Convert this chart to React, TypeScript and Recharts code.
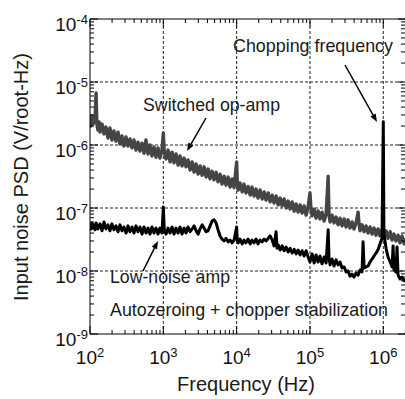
import React from "react";
import { LineChart, Line, XAxis, YAxis, ReferenceLine, Customized } from "recharts";

// Switched op-amp (gray) spectrum
const opAmpFreq = [
  100, 103, 106, 110, 113, 117, 121, 124, 128, 133, 137, 146, 155, 165, 176, 187, 199, 212, 226, 241,
  256, 273, 290, 310, 330, 351, 374, 398, 424, 451, 480, 512, 545, 580, 618, 657, 700, 746, 794, 846,
  900, 959, 1000, 1030, 1090, 1160, 1236, 1316, 1400, 1490, 1590, 1690, 1800, 1920, 2040, 2170, 2320, 2470, 2630, 2800,
  2980, 3170, 3380, 3600, 3830, 4080, 4340, 4620, 4920, 5240, 5580, 5940, 6330, 6740, 7170, 7640, 8140, 8660, 9220, 10000,
  10200, 10500, 11100, 11900, 12600, 13400, 14300, 15300, 16200, 17300, 18400, 19600, 20900, 22300, 23700, 25200, 26900, 28600, 30500, 32400,
  34500, 36800, 39200, 41700, 44400, 47300, 50300, 53600, 57100, 60800, 64700, 68900, 73400, 78100, 83200, 88600, 94300, 100000, 103000, 107000,
  114000, 121000, 129000, 137000, 146000, 156000, 166000, 177000, 182000, 188000, 200000, 213000, 227000, 242000, 257000, 274000, 292000, 311000, 331000, 352000,
  375000, 399000, 425000, 453000, 467000, 482000, 513000, 547000, 582000, 620000, 660000, 703000, 748000, 797000, 849000, 904000, 960000, 1020000, 1090000, 1160000,
  1240000, 1320000, 1400000, 1490000, 1590000, 1690000, 1800000, 1920000, 2040000,
];
const opAmpPsd = [
  2.68e-6, 2.0e-6, 2.9e-6, 2.15e-6, 2.5e-6, 2.33e-6, 6.7e-6, 2.15e-6, 1.73e-6, 2.33e-6, 1.6e-6, 2.15e-6, 1.5e-6, 1.93e-6, 1.29e-6, 1.86e-6, 1.2e-6, 1.67e-6, 1.15e-6, 1.6e-6,
  1.04e-6, 1.39e-6, 9.6e-7, 1.34e-6, 9.6e-7, 1.25e-6, 9.0e-7, 1.2e-6, 8.3e-7, 1.11e-6, 8.0e-7, 1.07e-6, 7.4e-7, 1.2e-6, 7.2e-7, 1.0e-6, 6.7e-7, 9.3e-7, 6.4e-7, 9.0e-7,
  6.2e-7, 8.3e-7, 1.55e-6, 7.7e-7, 6.0e-7, 8.3e-7, 5.4e-7, 7.7e-7, 5.2e-7, 7.2e-7, 4.8e-7, 6.7e-7, 4.65e-7, 6.2e-7, 4.5e-7, 5.8e-7, 4.0e-7, 5.4e-7, 3.7e-7, 5.0e-7,
  3.45e-7, 4.65e-7, 3.3e-7, 4.5e-7, 3.1e-7, 4.15e-7, 2.9e-7, 3.85e-7, 2.8e-7, 3.7e-7, 2.6e-7, 3.45e-7, 2.4e-7, 3.2e-7, 2.3e-7, 3.1e-7, 2.15e-7, 2.9e-7, 2.1e-7, 5.4e-7,
  2.6e-7, 1.93e-7, 2.5e-7, 1.8e-7, 2.4e-7, 1.73e-7, 2.2e-7, 1.6e-7, 2.15e-7, 1.55e-7, 2.0e-7, 1.44e-7, 1.93e-7, 1.39e-7, 1.8e-7, 1.34e-7, 1.73e-7, 1.25e-7, 1.6e-7, 1.2e-7,
  1.55e-7, 1.12e-7, 1.44e-7, 1.08e-7, 1.39e-7, 1.0e-7, 1.29e-7, 9.6e-8, 1.25e-7, 8.9e-8, 1.16e-7, 8.6e-8, 1.12e-7, 8.3e-8, 1.08e-7, 7.7e-8, 1.04e-7, 1.73e-7, 1.0e-7, 7.5e-8,
  9.6e-8, 6.9e-8, 9.0e-8, 6.7e-8, 8.6e-8, 6.2e-8, 8.0e-8, 3.2e-7, 7.7e-8, 6.0e-8, 7.7e-8, 5.8e-8, 7.2e-8, 5.4e-8, 6.9e-8, 5.2e-8, 6.7e-8, 5.0e-8, 6.5e-8, 4.8e-8,
  6.0e-8, 4.65e-8, 5.8e-8, 8.6e-8, 5.6e-8, 4.35e-8, 5.4e-8, 4.2e-8, 5.2e-8, 4.0e-8, 5.0e-8, 3.85e-8, 4.8e-8, 3.7e-8, 4.65e-8, 3.6e-8, 4.5e-8, 3.45e-8, 4.35e-8, 3.3e-8,
  4.2e-8, 3.1e-8, 3.85e-8, 3.0e-8, 3.7e-8, 2.8e-8, 3.6e-8, 2.7e-8, 3.3e-8,
];

// Low-noise amp (black) spectrum
const lnaFreq = [
  100, 103, 106, 110, 113, 117, 121, 128, 137, 146, 155, 165, 176, 187, 199, 212, 226, 241, 256, 273,
  290, 310, 330, 351, 374, 398, 424, 451, 480, 512, 545, 580, 618, 657, 700, 746, 794, 846, 900, 959,
  1000, 1030, 1090, 1160, 1236, 1316, 1400, 1490, 1590, 1690, 1800, 1920, 2040, 2170, 2320, 2470, 2630, 2800, 2980, 3170,
  3380, 3600, 3830, 4080, 4340, 4620, 4920, 5240, 5580, 5940, 6330, 6740, 7170, 7640, 8140, 8660, 9220, 10000, 10200, 10500,
  11100, 11900, 12600, 13400, 14300, 15300, 16200, 17300, 18400, 19600, 20900, 22300, 23700, 25200, 26900, 28600, 30500, 32400, 34500, 35600,
  36800, 39200, 41700, 44400, 47300, 50300, 53600, 57100, 60800, 64700, 68900, 73400, 78100, 83200, 88600, 94300, 100000, 107000, 114000, 121000,
  129000, 137000, 146000, 156000, 166000, 177000, 182000, 188000, 200000, 213000, 227000, 242000, 257000, 274000, 292000, 311000, 331000, 352000, 375000, 399000,
  425000, 453000, 482000, 513000, 530000, 547000, 582000, 620000, 660000, 703000, 748000, 797000, 849000, 904000, 960000, 1000000, 1020000, 1050000, 1090000, 1160000,
  1240000, 1320000, 1360000, 1400000, 1490000, 1540000, 1590000, 1690000, 1800000, 1920000, 2040000,
];
const lnaPsd = [
  5.6e-8, 4.65e-8, 5.8e-8, 4.8e-8, 5.4e-8, 4.5e-8, 5.8e-8, 4.65e-8, 5.6e-8, 4.35e-8, 6.0e-8, 4.65e-8, 5.4e-8, 4.35e-8, 5.6e-8, 4.5e-8, 5.2e-8, 4.2e-8, 5.4e-8, 4.35e-8,
  5.0e-8, 4.0e-8, 5.2e-8, 4.2e-8, 5.0e-8, 4.0e-8, 5.2e-8, 4.2e-8, 5.0e-8, 3.85e-8, 5.0e-8, 4.0e-8, 4.8e-8, 3.85e-8, 5.0e-8, 4.0e-8, 4.8e-8, 3.85e-8, 4.8e-8, 4.0e-8,
  1.04e-7, 4.5e-8, 3.85e-8, 4.8e-8, 4.0e-8, 5.0e-8, 3.85e-8, 4.8e-8, 4.0e-8, 5.0e-8, 3.85e-8, 4.8e-8, 4.0e-8, 5.0e-8, 4.2e-8, 4.65e-8, 5.2e-8, 4.35e-8, 3.85e-8, 4.65e-8,
  5.4e-8, 4.8e-8, 4.2e-8, 4.35e-8, 5.2e-8, 6.2e-8, 6.5e-8, 5.8e-8, 4.5e-8, 3.6e-8, 3.2e-8, 3.0e-8, 3.3e-8, 2.9e-8, 3.1e-8, 2.8e-8, 3.1e-8, 5.0e-8, 3.0e-8, 2.8e-8,
  3.2e-8, 2.7e-8, 3.1e-8, 2.8e-8, 3.2e-8, 2.7e-8, 3.1e-8, 2.8e-8, 3.2e-8, 2.7e-8, 3.1e-8, 2.9e-8, 3.2e-8, 3.0e-8, 3.3e-8, 3.6e-8, 3.1e-8, 2.5e-8, 4.2e-8, 2.3e-8,
  2.6e-8, 2.15e-8, 2.5e-8, 2.1e-8, 2.4e-8, 2.0e-8, 2.3e-8, 1.93e-8, 2.2e-8, 1.87e-8, 2.15e-8, 1.8e-8, 2.1e-8, 1.73e-8, 2.1e-8, 1.67e-8, 1.39e-8, 1.87e-8, 1.34e-8, 1.8e-8,
  1.39e-8, 1.73e-8, 1.3e-8, 1.67e-8, 1.34e-8, 4.5e-8, 1.6e-8, 1.25e-8, 1.55e-8, 1.2e-8, 1.5e-8, 1.25e-8, 1.39e-8, 1.12e-8, 1.16e-8, 9.7e-9, 1.0e-8, 8.3e-9, 8.9e-9, 8.0e-9,
  9.3e-9, 8.6e-9, 1.04e-8, 9.7e-9, 2.9e-8, 1.12e-8, 1.16e-8, 1.2e-8, 1.39e-8, 1.55e-8, 1.73e-8, 1.93e-8, 2.2e-8, 2.7e-8, 3.3e-8, 2.33e-6, 3.85e-8, 3.1e-8, 2.3e-8, 1.67e-8,
  1.39e-8, 1.16e-8, 2.5e-8, 1.04e-8, 9.7e-9, 2.4e-8, 8.6e-9, 7.5e-9, 8.0e-9, 7.0e-9, 7.2e-9,
];

const xMajorTicks = [1e2, 1e3, 1e4, 1e5, 1e6];
const yMajorTicks = [1e-9, 1e-8, 1e-7, 1e-6, 1e-5, 1e-4];
const xGridLines = [1e3, 1e4, 1e5, 1e6];
const yGridLines = [1e-8, 1e-7, 1e-6, 1e-5];
const minorMultipliers = [2, 3, 4, 5, 6, 7, 8, 9];

const X_DOMAIN: [number, number] = [100, 2.04e6];
const Y_DOMAIN: [number, number] = [1e-9, 1e-4];

const xTicks: number[] = [];
xMajorTicks.forEach((m) => {
  xTicks.push(m);
  minorMultipliers.forEach((k) => {
    const v = m * k;
    if (v <= X_DOMAIN[1]) xTicks.push(v);
  });
});
const yTicks: number[] = [];
yMajorTicks.forEach((m) => {
  yTicks.push(m);
  if (m < 1e-4) minorMultipliers.forEach((k) => yTicks.push(m * k));
});

const opAmpData = opAmpFreq.map((f, i) => ({ f, v: opAmpPsd[i] }));
const lnaData = lnaFreq.map((f, i) => ({ f, v: lnaPsd[i] }));

const FONT = "'Liberation Sans', Arial, Helvetica, sans-serif";

const isMajor = (v: number) => {
  const l = Math.log10(v);
  return Math.abs(l - Math.round(l)) < 1e-6;
};

const BottomTick = (props: any) => {
  const { x, y, payload } = props;
  const v = payload.value;
  const major = isMajor(v);
  const e = Math.round(Math.log10(v));
  return (
    <g>
      <line x1={x} y1={y} x2={x} y2={y - (major ? 8 : 4)} stroke="#000" strokeWidth={1} />
      {major && (
        <text x={x} y={y + 30} textAnchor="middle" fill="#111" fontFamily={FONT}>
          <tspan fontSize={19}>10</tspan>
          <tspan fontSize={13} dy={-7}>{e}</tspan>
        </text>
      )}
    </g>
  );
};

const TopTick = (props: any) => {
  const { x, y, payload } = props;
  const major = isMajor(payload.value);
  return <line x1={x} y1={y} x2={x} y2={y + (major ? 8 : 4)} stroke="#000" strokeWidth={1} />;
};

const LeftTick = (props: any) => {
  const { x, y, payload } = props;
  const v = payload.value;
  const major = isMajor(v);
  const e = Math.round(Math.log10(v));
  return (
    <g>
      <line x1={x} y1={y} x2={x + (major ? 8 : 4)} y2={y} stroke="#000" strokeWidth={1} />
      {major && (
        <text x={x - 2} y={y + 12} textAnchor="end" fill="#111" fontFamily={FONT}>
          <tspan fontSize={19}>10</tspan>
          <tspan fontSize={13} dy={-7}>{e}</tspan>
        </text>
      )}
    </g>
  );
};

const RightTick = (props: any) => {
  const { x, y, payload } = props;
  const major = isMajor(payload.value);
  return <line x1={x} y1={y} x2={x - (major ? 8 : 5)} y2={y} stroke="#000" strokeWidth={1} />;
};

const Arrow = ({ x1, y1, x2, y2 }: { x1: number; y1: number; x2: number; y2: number }) => {
  const a = Math.atan2(y2 - y1, x2 - x1);
  const L = 8;
  const W = 3;
  const bx = x2 - L * Math.cos(a);
  const by = y2 - L * Math.sin(a);
  const px = -Math.sin(a) * W;
  const py = Math.cos(a) * W;
  return (
    <g>
      <line x1={x1} y1={y1} x2={bx} y2={by} stroke="#000" strokeWidth={1.5} />
      <polygon points={`${x2},${y2} ${bx + px},${by + py} ${bx - px},${by - py}`} fill="#000" />
    </g>
  );
};

const Annotations = () => (
  <g fontFamily={FONT} fill="#1a1a1a">
    <text x={246} y={391} fontSize={20} textAnchor="middle">Frequency (Hz)</text>
    <text x={28} y={177} fontSize={20} textAnchor="middle" transform="rotate(-90, 28, 177)">
      Input noise PSD (V/root-Hz)
    </text>
    <text x={233} y={52} fontSize={19} textLength={160} lengthAdjust="spacingAndGlyphs">Chopping frequency</text>
    <text x={143} y={111} fontSize={19} textLength={137} lengthAdjust="spacingAndGlyphs">Switched op-amp</text>
    <text x={110} y={283} fontSize={19} textLength={120} lengthAdjust="spacingAndGlyphs">Low-noise amp</text>
    <text x={110} y={316} fontSize={19} textLength={278} lengthAdjust="spacingAndGlyphs">
      Autozeroing + chopper stabilization
    </text>
    <Arrow x1={345} y1={65} x2={377} y2={122} />
    <Arrow x1={206} y1={118} x2={187} y2={151} />
    <Arrow x1={143} y1={271} x2={158} y2={241} />
  </g>
);

export default function App() {
  return (
    <div style={{ position: "absolute", left: 0, top: 0, width: 405, height: 399, overflow: "hidden", background: "#fff" }}>
      <LineChart width={420} height={399} margin={{ top: 18, right: 13, bottom: 64, left: 89 }}>
        <XAxis
          xAxisId="b"
          dataKey="f"
          type="number"
          scale="log"
          domain={X_DOMAIN}
          allowDataOverflow
          ticks={xTicks}
          interval={0}
          height={1}
          tickSize={0}
          tickMargin={0}
          tickLine={false}
          tick={<BottomTick />}
          axisLine={{ stroke: "#000", strokeWidth: 1 }}
        />
        <XAxis
          xAxisId="t"
          orientation="top"
          dataKey="f"
          type="number"
          scale="log"
          domain={X_DOMAIN}
          allowDataOverflow
          ticks={xTicks}
          interval={0}
          height={1}
          tickSize={0}
          tickMargin={0}
          tickLine={false}
          tick={<TopTick />}
          axisLine={{ stroke: "#000", strokeWidth: 1 }}
        />
        <YAxis
          yAxisId="l"
          type="number"
          scale="log"
          domain={Y_DOMAIN}
          allowDataOverflow
          ticks={yTicks}
          interval={0}
          width={1}
          tickSize={0}
          tickMargin={0}
          tickLine={false}
          tick={<LeftTick />}
          axisLine={{ stroke: "#000", strokeWidth: 1 }}
        />
        <YAxis
          yAxisId="r"
          orientation="right"
          type="number"
          scale="log"
          domain={Y_DOMAIN}
          allowDataOverflow
          ticks={yTicks}
          interval={0}
          width={1}
          tickSize={0}
          tickMargin={0}
          tickLine={false}
          tick={<RightTick />}
          axisLine={{ stroke: "#000", strokeWidth: 1 }}
        />
        {xGridLines.map((g) => (
          <ReferenceLine key={`gx${g}`} x={g} xAxisId="b" yAxisId="l" stroke="#222" strokeDasharray="3 2" strokeWidth={1} />
        ))}
        {yGridLines.map((g) => (
          <ReferenceLine key={`gy${g}`} y={g} xAxisId="b" yAxisId="l" stroke="#222" strokeDasharray="3 2" strokeWidth={1} />
        ))}
        <Line
          data={opAmpData}
          dataKey="v"
          xAxisId="b"
          yAxisId="l"
          type="linear"
          stroke="#454545"
          strokeWidth={3.4}
          strokeLinejoin="round"
          dot={false}
          activeDot={false}
          isAnimationActive={false}
        />
        <Line
          data={lnaData}
          dataKey="v"
          xAxisId="b"
          yAxisId="l"
          type="linear"
          stroke="#000"
          strokeWidth={3}
          strokeLinejoin="round"
          dot={false}
          activeDot={false}
          isAnimationActive={false}
        />
        <Customized component={Annotations} />
      </LineChart>
    </div>
  );
}
